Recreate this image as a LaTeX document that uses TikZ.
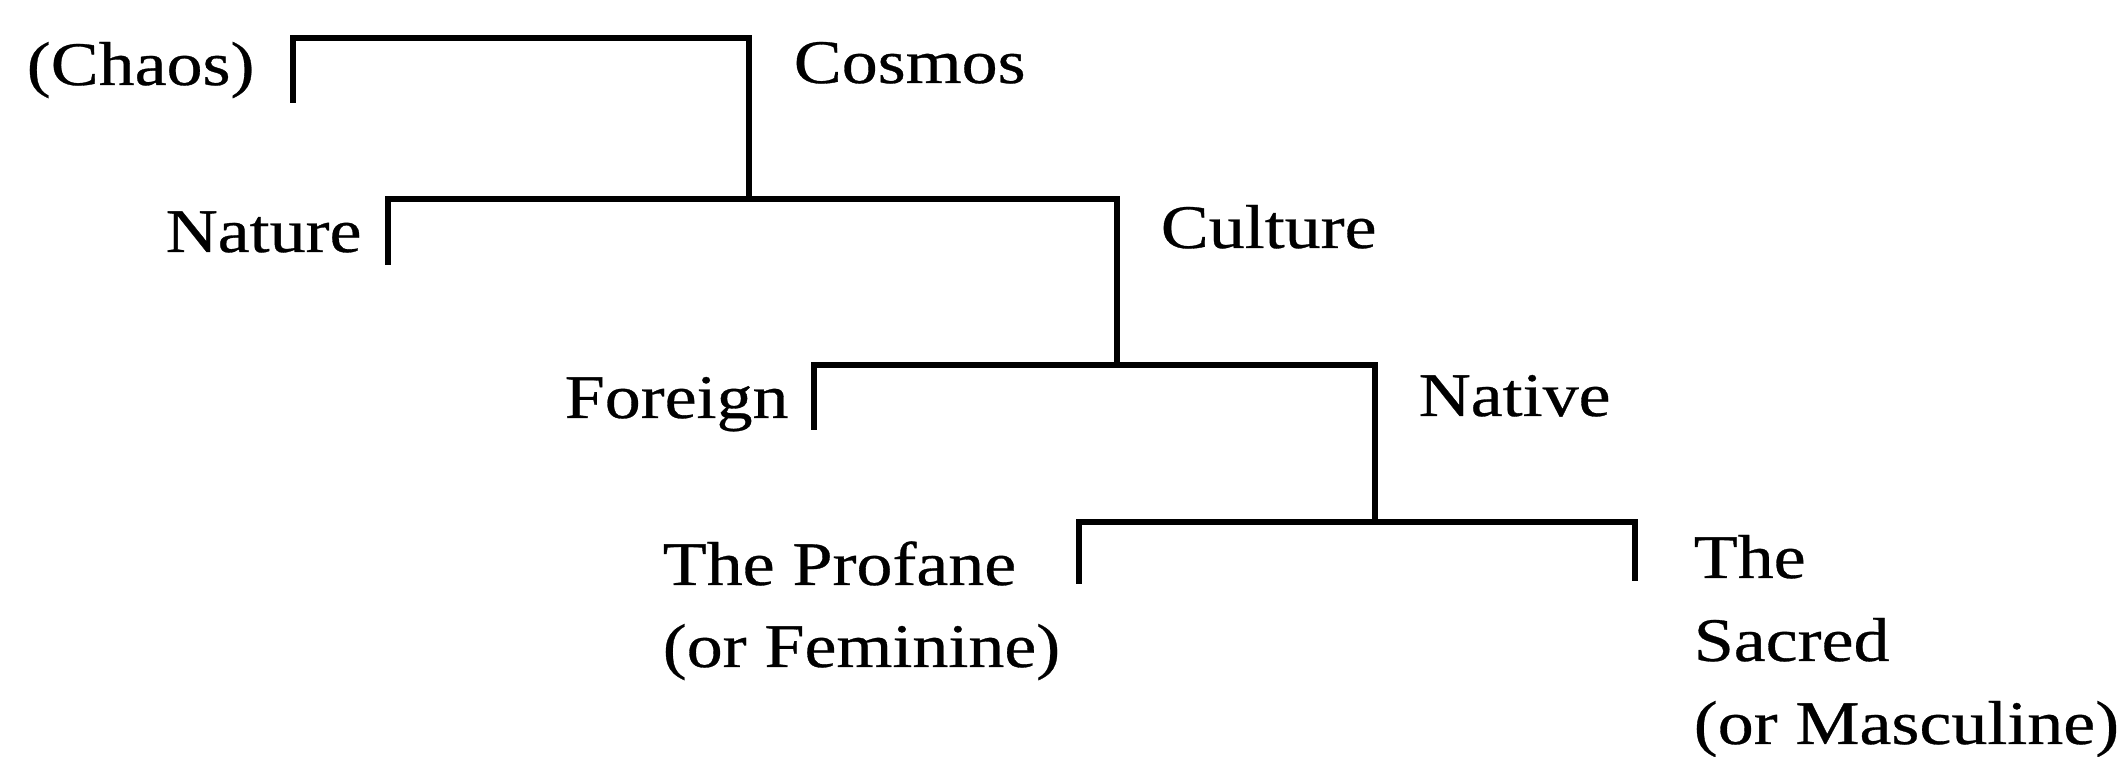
\documentclass[tikz,border=0pt]{standalone}
\usepackage{fontspec}
\setmainfont[FakeStretch=1.16,FakeBold=0.5]{Liberation Serif}
\begin{document}
\begin{tikzpicture}[x=0.25pt,y=-0.25pt,
  lbl/.style={anchor=base west,inner sep=0pt,font=\fontsize{15.5}{20}\selectfont},
  br/.style={line width=1.4pt,line join=miter,line cap=rect}]
\useasboundingbox (0,0) rectangle (2121,757);
% labels
\node[lbl] (chaos)   at (26,85)   {(Chaos)};
\node[lbl] (cosmos)  at (793,83)  {Cosmos};
\node[lbl] (nature)  at (165,252) {Nature};
\node[lbl] (culture) at (1160,248) {Culture};
\node[lbl] (foreign) at (564,418) {Foreign};
\node[lbl] (native)  at (1418,416) {Native};
\node[lbl] (prof1)   at (662,585) {The Profane};
\node[lbl] (prof2)   at (662,667) {(or Feminine)};
\node[lbl] (sac1)    at (1693,578) {The};
\node[lbl] (sac2)    at (1693,661) {Sacred};
\node[lbl] (sac3)    at (1693,744) {(or Masculine)};
% bracket corners
\coordinate (c1) at (293,100);
\coordinate (c3) at (749,38);
\coordinate (n1) at (388,262);
\coordinate (n3) at (1117,199);
\coordinate (c4) at (749,199);
\coordinate (f1) at (814,427);
\coordinate (f3) at (1375,365);
\coordinate (n4) at (1117,365);
\coordinate (p1) at (1079,581);
\coordinate (p3) at (1635,522);
\coordinate (p4) at (1635,578);
\coordinate (f4) at (1375,522);
% brackets
\draw[br] (c1) |- (c3) -- (c4);
\draw[br] (n1) |- (n3) -- (n4);
\draw[br] (f1) |- (f3) -- (f4);
\draw[br] (p1) |- (p3) -- (p4);
\end{tikzpicture}
\end{document}
